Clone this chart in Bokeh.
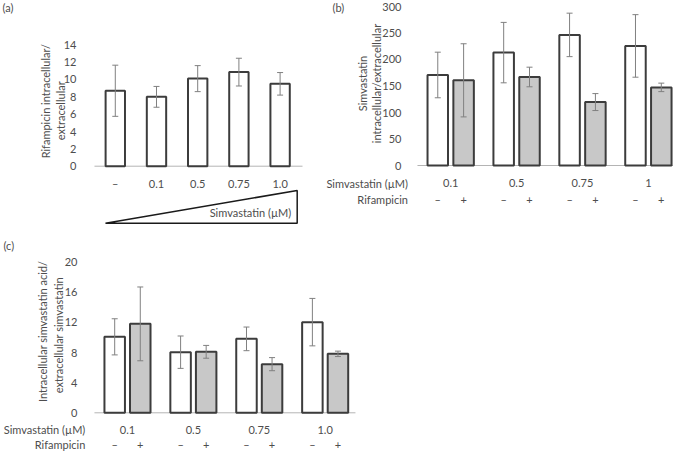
from bokeh.plotting import figure
from bokeh.models import ColumnDataSource, Whisker, TeeHead, FixedTicker, LinearAxis
from bokeh.layouts import column, row
from bokeh.core.properties import value
from bokeh.embed import file_html
from bokeh.resources import INLINE

# ---------------- data ----------------
# Panel (a): rifampicin intracellular/extracellular vs simvastatin concentration
a_conc = ["–", "0.1", "0.5", "0.75", "1.0"]
a_ratio = [8.7, 8.0, 10.1, 10.85, 9.5]
a_sd = [2.95, 1.2, 1.5, 1.6, 1.3]

# Panel (b): simvastatin intracellular/extracellular
b_conc = ["0.1", "0.5", "0.75", "1"]
b_no_rif = [170.8, 213.0, 246.4, 225.6]
b_no_rif_sd = [43, 57, 41, 59]
b_rif = [160.7, 167.0, 119.7, 147.4]
b_rif_sd = [69, 18.5, 16, 8]

# Panel (c): intracellular simvastatin acid / extracellular simvastatin
c_conc = ["0.1", "0.5", "0.75", "1.0"]
c_no_rif = [10.09, 8.05, 9.82, 12.04]
c_no_rif_sd = [2.4, 2.15, 1.57, 3.15]
c_rif = [11.81, 8.1, 6.46, 7.83]
c_rif_sd = [4.9, 0.85, 0.87, 0.36]

rif_marks = ["–", "+"]

a_ticks = [0, 2, 4, 6, 8, 10, 12, 14]
b_ticks = [0, 50, 100, 150, 200, 250, 300]
c_ticks = [0, 4, 8, 12, 16, 20]

# ---------------- style ----------------
FONT = "Lato"
TXT = "#4d4d4d"
FS = "11px"
BAR_LINE = "#3c3c3c"
GRAY = "#c8c8c8"
ERR = "#808080"
BASE = "#b4b4b4"
ROT = 1.5708


def make_fig(w, h, xr, yr, ticks, axis_x, standoff):
    p = figure(width=w, height=h, x_range=xr, y_range=yr, title=None,
               x_axis_location=None, y_axis_location=None,
               output_backend="svg", toolbar_location=None,
               min_border_left=0, min_border_right=0, min_border_top=0,
               min_border_bottom=0)
    p.outline_line_color = None
    p.grid.visible = False
    ax = LinearAxis(ticker=FixedTicker(ticks=ticks), fixed_location=axis_x)
    ax.axis_line_color = None
    ax.major_tick_line_color = None
    ax.minor_tick_line_color = None
    ax.major_label_standoff = standoff
    ax.major_label_text_font = FONT
    ax.major_label_text_font_size = FS
    ax.major_label_text_color = TXT
    p.add_layout(ax, "left")
    return p


def baseline(p, x0, x1):
    p.segment(x0=[x0], y0=[0], x1=[x1], y1=[0], line_color=BASE, line_width=1)


def bars(p, xs, tops, sds, width, fill):
    src = ColumnDataSource(dict(x=xs, top=tops,
                                upper=[t + s for t, s in zip(tops, sds)],
                                lower=[t - s for t, s in zip(tops, sds)]))
    p.vbar(x="x", top="top", bottom=0, width=width, source=src,
           fill_color=fill, line_color=BAR_LINE, line_width=2)
    p.add_layout(Whisker(source=src, base="x", upper="upper", lower="lower",
                         line_color=ERR, line_width=1, level="annotation",
                         upper_head=TeeHead(size=6, line_color=ERR, line_width=1),
                         lower_head=TeeHead(size=6, line_color=ERR, line_width=1)))


def texts(p, xs, ys, labels, align="center", angle=0.0):
    p.text(x=xs, y=ys, text=labels, text_font=value(FONT), angle=angle,
           text_font_size=FS, text_color=TXT, text_align=align,
           text_baseline="middle")


# ---------------- panel (a) ----------------
na = len(a_conc)
pa = make_fig(318, 230, (-2.786, 4.932), (-7.416, 19.11), a_ticks, -0.505, 12)
xa = list(range(na))
baseline(pa, -0.505, na - 0.456)
bars(pa, xa, a_ratio, a_sd, 0.47, "white")
texts(pa, xa, [-2.03] * na, a_conc)
pa.patch(x=[-0.238, na - 1 + 0.415, na - 1 + 0.415], y=[-6.574, -2.803, -6.574],
         fill_color="white", line_color="#1a1a1a", line_width=1.5)
texts(pa, [na - 1 + 0.27], [-5.34], ["Simvastatin (µM)"], align="right")
texts(pa, [-1.69], [7.5], ["Rifampicin intracellular/"], angle=ROT)
texts(pa, [-1.33], [6.4], ["extracellular"], angle=ROT)
texts(pa, [-2.738], [18.3], ["(a)"], align="left")

# ---------------- panel (b) ----------------
nb = len(b_conc)
off = 0.196
pb = make_fig(355, 230, (-2.006, 3.381), (-122.6, 311.3), b_ticks, -0.504, 10)
xb_w = [i - off for i in range(nb)]
xb_g = [i + off for i in range(nb)]
baseline(pb, -0.504, 3.381)
bars(pb, xb_w, b_no_rif, b_no_rif_sd, 0.311, "white")
bars(pb, xb_g, b_rif, b_rif_sd, 0.311, GRAY)
texts(pb, list(range(nb)), [-33.4] * nb, b_conc)
texts(pb, xb_w, [-64.2] * nb, [rif_marks[0]] * nb)
texts(pb, xb_g, [-64.2] * nb, [rif_marks[1]] * nb)
texts(pb, [-0.648, -0.648], [-33.4, -64.2], ["Simvastatin (µM)", "Rifampicin"], align="right")
texts(pb, [-1.34], [154.7], ["Simvastatin"], angle=ROT)
texts(pb, [-1.12], [154.7], ["intracellular/extracellular"], angle=ROT)
texts(pb, [-1.794], [298], ["(b)"], align="left")

# ---------------- panel (c) ----------------
nc = len(c_conc)
offc = 0.194
pc = make_fig(365, 223, (-1.927, 3.612), (-5.405, 24.21), c_ticks, -0.501, 11)
xc_w = [i - offc for i in range(nc)]
xc_g = [i + offc for i in range(nc)]
baseline(pc, -0.501, nc - 0.54)
bars(pc, xc_w, c_no_rif, c_no_rif_sd, 0.311, "white")
bars(pc, xc_g, c_rif, c_rif_sd, 0.311, GRAY)
texts(pc, list(range(nc)), [-2.26] * nc, c_conc)
texts(pc, xc_w, [-4.21] * nc, [rif_marks[0]] * nc)
texts(pc, xc_g, [-4.21] * nc, [rif_marks[1]] * nc)
texts(pc, [-0.64, -0.64], [-2.26, -4.21], ["Simvastatin (µM)", "Rifampicin"], align="right")
texts(pc, [-1.285], [10.8], ["Intracellular simvastatin acid/"], angle=ROT)
texts(pc, [-1.05], [10.3], ["extracellular simvastatin"], angle=ROT)
texts(pc, [-1.882], [22.2], ["(c)"], align="left")

layout = column(row(pa, pb), pc)
open("out.html", "w").write(file_html(layout, INLINE))
